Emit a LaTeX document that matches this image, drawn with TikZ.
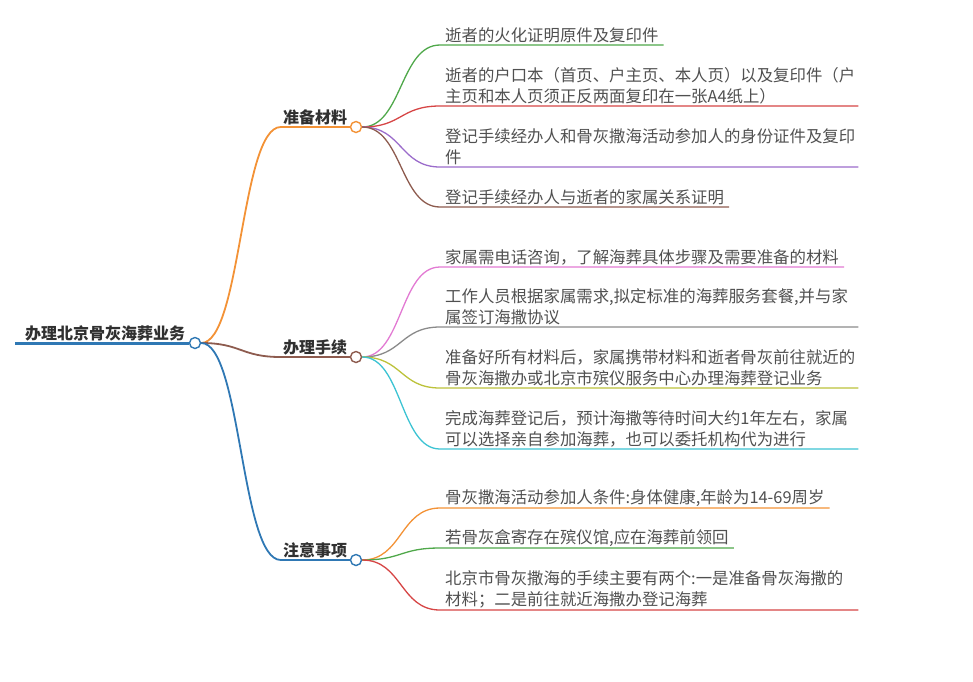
\documentclass[tikz,border=0pt]{standalone}
\usepackage{fontspec}
\setmainfont{Noto Sans CJK SC}
\definecolor{textgray}{HTML}{505050}
\definecolor{labelgray}{HTML}{303030}
\definecolor{rootblue}{HTML}{2F78B4}
\definecolor{orange1}{HTML}{F39236}
\definecolor{green1}{HTML}{4FA84A}
\definecolor{red1}{HTML}{D64545}
\definecolor{purple1}{HTML}{9B6CCB}
\definecolor{brown1}{HTML}{8D5B4E}
\definecolor{pink1}{HTML}{E27AD3}
\definecolor{gray1}{HTML}{8A8A8A}
\definecolor{olive1}{HTML}{BCC23A}
\definecolor{cyan1}{HTML}{3CC3D3}
\tikzset{
  leaf/.style={anchor=south west, inner xsep=5pt, inner ysep=1.5pt, text=textgray,
    font=\fontsize{16.4}{21}\selectfont, align=left},
  wide/.style={text width=408pt},
  branchlabel/.style={anchor=south, inner sep=2pt, text=labelgray,
    font=\bfseries\fontsize{16}{18}\selectfont},
  rootlabel/.style={anchor=south west, inner xsep=10pt, inner ysep=2pt, text=labelgray,
    font=\bfseries\fontsize{16}{18}\selectfont},
  dot/.style={circle, draw, fill=white, line width=1.4pt, minimum size=11pt, inner sep=0pt},
  edge/.style={line width=1.3pt},
  trunk/.style={line width=1.8pt},
}
\begin{document}
\begin{tikzpicture}[x=1pt,y=-1pt]
  \useasboundingbox (0,0) rectangle (973,681);

  % root
  \node[rootlabel] (root) at (15,343) {办理北京骨灰海葬业务};
  \node[dot, draw=rootblue] (c0) at (195,343) {};
  \draw[rootblue, line width=3pt] (root.south west) -- (c0.west);

  % branches
  \node[branchlabel] (b1) at (315,127) {准备材料};
  \node[branchlabel] (b2) at (315,357) {办理手续};
  \node[branchlabel] (b3) at (315,560) {注意事项};
  \node[dot, draw=orange1] (c1) at (356,127) {};
  \node[dot, draw=brown1] (c2) at (356,357) {};
  \node[dot, draw=rootblue] (c3) at (356,560) {};
  \foreach \b/\c/\col in {b1/c1/orange1, b2/c2/brown1, b3/c3/rootblue}
    \draw[trunk, \col] (c0.east) .. controls +(40,0) and +(-40,0) .. (\b.south west) -- (\c.west);

  % 准备材料
  \node[leaf] (m11) at (440,45) {逝者的火化证明原件及复印件};
  \node[leaf, wide] (m12) at (440,106) {逝者的户口本（首页、户主页、本人页）以及复印件（户\\主页和本人页须正反两面复印在一张A4纸上）};
  \node[leaf, wide] (m13) at (440,167) {登记手续经办人和骨灰撒海活动参加人的身份证件及复印\\件};
  \node[leaf] (m14) at (440,207) {登记手续经办人与逝者的家属关系证明};
  \foreach \m/\col in {m11/green1, m12/red1, m13/purple1, m14/brown1}
    \draw[edge, \col] (c1.east) .. controls +(40,0) and +(-40,0) .. (\m.south west) -- (\m.south east);

  % 办理手续
  \node[leaf] (m21) at (440,267) {家属需电话咨询，了解海葬具体步骤及需要准备的材料};
  \node[leaf, wide] (m22) at (440,327) {工作人员根据家属需求,拟定标准的海葬服务套餐,并与家\\属签订海撒协议};
  \node[leaf, wide] (m23) at (440,388) {准备好所有材料后，家属携带材料和逝者骨灰前往就近的\\骨灰海撒办或北京市殡仪服务中心办理海葬登记业务};
  \node[leaf, wide] (m24) at (440,449) {完成海葬登记后，预计海撒等待时间大约1年左右，家属\\可以选择亲自参加海葬，也可以委托机构代为进行};
  \foreach \m/\col in {m21/pink1, m22/gray1, m23/olive1, m24/cyan1}
    \draw[edge, \col] (c2.east) .. controls +(40,0) and +(-40,0) .. (\m.south west) -- (\m.south east);

  % 注意事项
  \node[leaf] (m31) at (440,508) {骨灰撒海活动参加人条件:身体健康,年龄为14-69周岁};
  \node[leaf] (m32) at (440,548) {若骨灰盒寄存在殡仪馆,应在海葬前领回};
  \node[leaf, wide] (m33) at (440,610) {北京市骨灰撒海的手续主要有两个:一是准备骨灰海撒的\\材料；二是前往就近海撒办登记海葬};
  \foreach \m/\col in {m31/orange1, m32/green1, m33/red1}
    \draw[edge, \col] (c3.east) .. controls +(40,0) and +(-40,0) .. (\m.south west) -- (\m.south east);
\end{tikzpicture}
\end{document}
